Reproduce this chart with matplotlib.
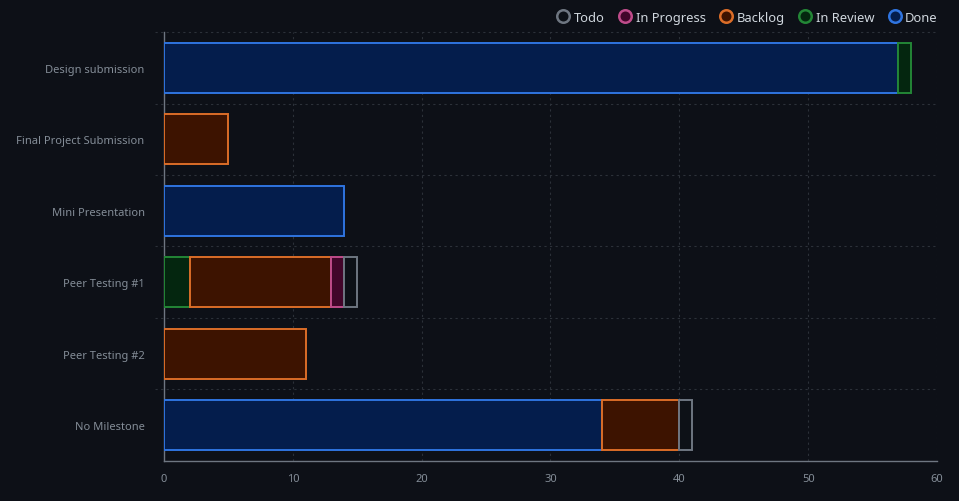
import numpy as np
import matplotlib.pyplot as plt
from matplotlib.lines import Line2D

plt.rcParams['font.family'] = ['Noto Sans', 'DejaVu Sans']

milestones = ['Design submission', 'Final Project Submission', 'Mini Presentation',
              'Peer Testing #1', 'Peer Testing #2', 'No Milestone']
# stacking order: Done, In Review, Backlog, In Progress, Todo
done = [57, 0, 14, 0, 0, 34]
in_review = [1, 0, 0, 2, 0, 0]
backlog = [0, 5, 0, 11, 11, 6]
in_progress = [0, 0, 0, 1, 0, 0]
todo = [0, 0, 0, 1, 0, 1]

series = [
    ('Done', done, '#2f74e0', '#041d4c'),
    ('In Review', in_review, '#238636', '#04260f'),
    ('Backlog', backlog, '#db6d28', '#3d1300'),
    ('In Progress', in_progress, '#bf4b8a', '#42062a'),
    ('Todo', todo, '#6e7681', '#0d1117'),
]

bg = '#0d1017'
fig = plt.figure(figsize=(9.59, 5.02), dpi=100, facecolor=bg)
ax = fig.add_axes([0.171, 0.080, 0.806, 0.854], facecolor=bg)

y = np.arange(len(milestones))
left = np.zeros(len(milestones))
for name, vals, edge, fill in series:
    vals = np.array(vals, dtype=float)
    mask = vals > 0
    ax.barh(y[mask], vals[mask], left=left[mask], height=0.7,
            color=fill, edgecolor=edge, linewidth=1.4, zorder=3)
    left += vals

ax.set_ylim(len(milestones) - 0.5, -0.5)
ax.set_xlim(0, 60)
ax.set_xticks(range(0, 61, 10))
ax.set_yticks(y)
ax.set_yticklabels(milestones)

grid_c = '#2c3139'
for xv in range(10, 61, 10):
    ax.axvline(xv, color=grid_c, lw=0.8, ls=(0, (2, 3)), zorder=1)
for b in np.arange(-0.5, len(milestones) - 0.5, 1.0):
    ax.plot([-0.012, 1.0], [b, b], transform=ax.get_yaxis_transform(),
            color=grid_c, lw=0.8, ls=(0, (2, 3)), clip_on=False, zorder=1)

for s in ['top', 'right']:
    ax.spines[s].set_visible(False)
for s in ['left', 'bottom']:
    ax.spines[s].set_color('#6e7681')
    ax.spines[s].set_linewidth(1.0)

ax.tick_params(axis='y', length=0, pad=14, labelsize=8, labelcolor='#848d97')
ax.tick_params(axis='x', length=0, pad=9, labelsize=8, labelcolor='#848d97')

handles = [Line2D([], [], marker='o', ls='none', markersize=9,
                  markerfacecolor=fill, markeredgecolor=edge, markeredgewidth=1.8,
                  label=name)
           for name, _, edge, fill in series[::-1]]
fig.legend(handles=handles, loc='upper right', bbox_to_anchor=(0.99, 1.0), ncol=5,
           frameon=False, fontsize=9.3, labelcolor='#d0d7de', handletextpad=0.3,
           columnspacing=1.1, handlelength=1.0)

fig.savefig('out.png', dpi=100, facecolor=bg)
